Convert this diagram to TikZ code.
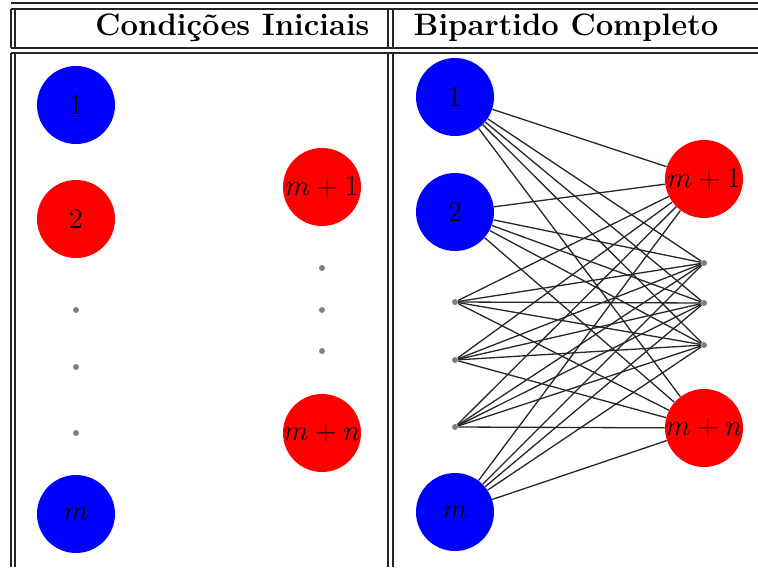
\documentclass[tikz,border=0pt]{standalone}
\begin{document}
\begin{tikzpicture}[x=0.5pt,y=-0.5pt,
  rule/.style={line width=0.6pt,black!85},
  bnode/.style={circle,fill=blue,minimum size=39pt,inner sep=0pt},
  rnode/.style={circle,fill=red,minimum size=39pt,inner sep=0pt},
  dotnode/.style={circle,fill=gray,minimum size=3pt,inner sep=0pt},
  lab/.style={font=\fontsize{15}{18}\selectfont,inner sep=0pt},
  head/.style={font=\fontsize{15.5}{18}\selectfont\bfseries,anchor=base,inner sep=0pt},
  edge/.style={line width=0.65pt,black!85}]
\useasboundingbox (0,0) rectangle (758,567);
% table rules
\draw[rule] (11,3) -- (758,3);
\draw[rule] (11,9) -- (758,9);
\draw[rule] (11,48) -- (758,48);
\draw[rule] (11,53) -- (758,53);
\foreach \x in {11,15,388,393}{
  \draw[rule] (\x,9) -- (\x,48);
  \draw[rule] (\x,53) -- (\x,567);
}
% headers
\node[head] (h1) at (232.5,36) {Condições Iniciais};
\node[head] (h2) at (566,36) {Bipartido Completo};
% left panel
\node[bnode] (a1) at (76,105) {};
\node[lab] (ta1) at (a1) {$1$};
\node[rnode] (a2) at (76,219) {};
\node[lab] (ta2) at (a2) {$2$};
\node[dotnode] (ad1) at (76,310) {};
\node[dotnode] (ad2) at (76,367) {};
\node[dotnode] (ad3) at (76,433) {};
\node[bnode] (am) at (76,514) {};
\node[lab] (tam) at (am) {$m$};
\node[rnode] (b1) at (322,187) {};
\node[lab] (tb1) at (b1) {$m+1$};
\node[dotnode] (bd1) at (322,268) {};
\node[dotnode] (bd2) at (322,310) {};
\node[dotnode] (bd3) at (322,351) {};
\node[rnode] (bn) at (322,433) {};
\node[lab] (tbn) at (bn) {$m+n$};
% right panel
\node[bnode] (L1) at (455,97) {};
\node[bnode] (L2) at (455,212) {};
\node[dotnode] (L3) at (455,302) {};
\node[dotnode] (L4) at (455,360) {};
\node[dotnode] (L5) at (455,427) {};
\node[bnode] (L6) at (455,512) {};
\node[rnode] (R1) at (704,179) {};
\node[dotnode] (R2) at (704,263) {};
\node[dotnode] (R3) at (704,303) {};
\node[dotnode] (R4) at (704,345) {};
\node[rnode] (R5) at (704,428) {};
\foreach \i in {1,...,6}{
  \foreach \j in {1,...,5}{
    \draw[edge] (L\i) -- (R\j);
  }
}
\node[lab] (tL1) at (L1) {$1$};
\node[lab] (tL2) at (L2) {$2$};
\node[lab] (tL6) at (L6) {$m$};
\node[lab] (tR1) at (R1) {$m+1$};
\node[lab] (tR5) at (R5) {$m+n$};
\end{tikzpicture}
\end{document}
